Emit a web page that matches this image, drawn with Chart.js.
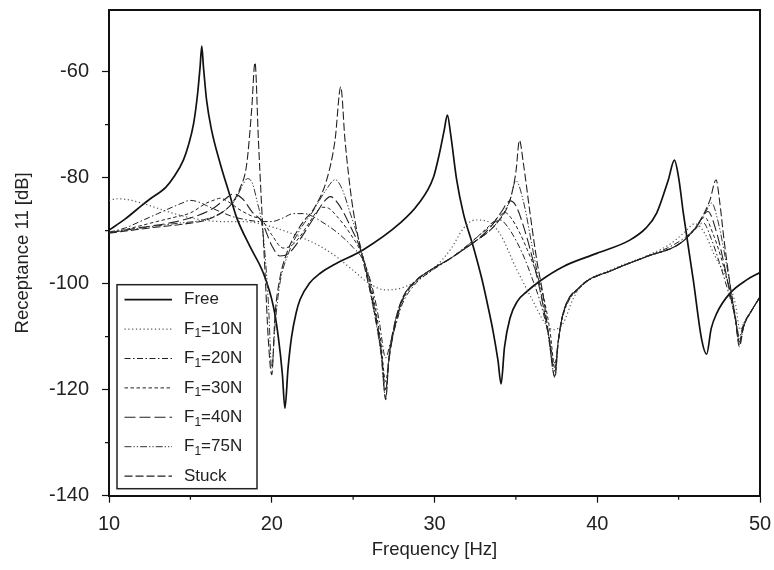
<!DOCTYPE html>
<html>
<head>
<meta charset="utf-8">
<script src="https://cdn.jsdelivr.net/npm/chart.js@4.4.1/dist/chart.umd.min.js"></script>
<style>
  html, body { margin: 0; padding: 0; background: #fff; }
  #c { display: block; }
</style>
</head>
<body>
<canvas id="c" width="774" height="570"></canvas>
<script>
// ---------- data ----------
const xTickValues = [10, 20, 30, 40, 50];
const xMinorValues = [15, 25, 35, 45];
const yTickValues = [-140, -120, -100, -80, -60];
const yMinorValues = [-130, -110, -90, -70];

const seriesNames = ['Free', 'F1=10N', 'F1=20N', 'F1=30N', 'F1=40N', 'F1=75N', 'Stuck'];

const freeHz = [10,11,12,12.5,13.5,14,14.57,14.87,15.2,15.45,15.6,15.7,15.8,16,16.3,16.8,17.43,17.85,18.66,19.48,20.1,20.4,20.65,20.81,21,21.22,21.5,21.74,22.3,23,23.78,25.63,27.88,29,29.93,30.3,30.6,30.79,31,31.36,31.77,32.38,32.9,33.3,33.6,33.9,34.09,34.3,34.64,35.1,35.67,36.48,37.9,39.97,42,43,43.65,44.37,44.74,45,45.29,45.9,46.42,46.72,47,47.34,48.16,49.18,50];
const freeDb = [-89.9,-87.8,-85.3,-84.1,-81.8,-79.8,-76.7,-74.0,-69.8,-64,-59,-55.2,-59,-65.5,-71,-77,-83.4,-87.6,-93,-98,-104.3,-110,-117,-123.5,-116,-110,-105.5,-103,-100,-98,-96.5,-93.6,-88.6,-85,-80,-75.5,-71,-68.2,-72,-80.4,-86.7,-93,-99,-104.5,-109,-114.5,-118.9,-112,-106.5,-103.3,-101.5,-99.5,-96.8,-94.3,-91.8,-89.5,-86.7,-80.4,-76.7,-80,-86.7,-99.3,-110.6,-113.3,-108.5,-105.6,-101.8,-99.3,-97.9];

const f10Hz = [10,10.5,11,12,13,14,15,16,17,18,19,20,21,22,23,24,25,26,27,28,29,30,31,31.8,32.5,33.2,34,35,36,36.8,37.3,37.9,38.5,39,41,43,44.5,45.3,46,46.6,47.15,47.7,48.16,48.5,48.77,49,49.5,50];
const f10Db = [-84.3,-84,-84.1,-84.8,-85.8,-86.8,-87.6,-88.1,-88.3,-88.3,-88.5,-89.3,-90.3,-91.5,-93,-95,-97.5,-100,-101.2,-100.8,-99.3,-97,-93.5,-89.5,-88,-88.2,-90.5,-97,-103,-107.5,-108.7,-107.5,-103,-100.5,-97.2,-94.8,-92.5,-90.5,-88.7,-90.5,-94.3,-97.5,-100.6,-104,-108.7,-107.5,-105,-102.5];

const f20Hz = [10,11,11.9,13,13.95,14.5,14.98,15.5,16,16.8,17.64,18.5,19.28,20,20.7,21.32,22,22.5,23,24,25,25.6,26.2,26.6,27,27.3,27.6,28,28.9,29.72,30.95,31.77,32.4,33.2,34.03,34.5,35,35.5,36,36.5,37,37.4,37.6,37.9,38.94,40.99,43.04,44.5,45.4,46.1,46.5,47,47.5,48,48.5,48.73,49,49.5,50];
const f20Db = [-90.3,-89.5,-88.3,-86.8,-85.5,-84.8,-84.3,-84.6,-85.3,-86.4,-87.4,-88,-88.3,-88.3,-87.6,-86.8,-86.8,-87.3,-88.2,-90.3,-93.2,-95.5,-101,-107,-114,-111,-108,-104,-99.8,-97.8,-95.3,-93.4,-91.8,-89.8,-88,-89.3,-91.8,-95,-99,-103.5,-109.5,-115,-111,-106,-100.8,-97.4,-94.9,-93,-91.3,-89.5,-88.5,-91.5,-96,-101,-106.5,-110,-107.5,-105,-102.5];

const f30Hz = [10,11,12.93,14,14.98,16,16.5,16.82,17.3,18.05,18.8,19.38,20,20.7,21.3,21.74,22.3,22.8,23.1,23.5,24,24.8,25.6,26.2,26.7,27,27.2,27.5,28,28.9,29.72,30.95,31.77,32.4,33.3,33.9,34.33,34.7,35.2,35.7,36.2,36.7,37.1,37.4,37.6,37.9,38.94,40.99,43.04,45.1,46,46.6,47.1,47.6,48,48.4,48.73,49,49.5,50];
const f30Db = [-90.4,-89.8,-88.3,-87.5,-86.7,-84.8,-84.2,-83.9,-84.5,-86.1,-87.3,-88,-90.8,-93.3,-92.6,-91.1,-88.5,-86.3,-85.6,-85.8,-87.3,-90.5,-95,-102,-111,-118.5,-114,-109,-103.5,-99.5,-97.6,-95.3,-93.5,-91.8,-89.3,-87.5,-86.6,-87.6,-90.2,-93.6,-97.5,-102.5,-109,-116,-111,-105.8,-100.7,-97.4,-94.9,-92.4,-89.8,-87.5,-90.5,-95,-99.5,-104.5,-110.5,-108,-105,-102.5];

const f40Hz = [10,12,14,15.5,16.5,17.2,17.64,18.2,18.8,19.38,20,20.5,21,21.7,22.5,23.2,23.6,24.1,24.8,25.5,26.2,26.7,27,27.2,27.5,28,28.9,29.72,30.95,31.77,32.38,33.4,34.1,34.64,35,35.5,36,36.5,37,37.4,37.6,37.9,38.94,40.99,43.04,45.1,46.1,46.8,47.3,47.7,48.1,48.5,48.73,49,49.5,50];
const f40Db = [-90.4,-89.4,-88.4,-87.1,-85.6,-83.9,-83.1,-84,-86.5,-88.3,-92.8,-94.8,-94.4,-91.8,-88,-84.6,-83.6,-85,-89,-94,-103,-112,-120,-114.5,-109,-103.3,-99.4,-97.5,-95.3,-93.6,-92.3,-89.5,-86.5,-84.4,-85.3,-89.5,-95,-101.5,-109.5,-116.5,-111,-105.7,-100.6,-97.4,-94.9,-92.4,-89.2,-86.4,-90,-95,-101,-107,-111,-108,-105,-102.5];

const f75Hz = [10,12,14,16,17.2,17.8,18.2,18.5,18.8,19.1,19.38,19.6,19.8,20,20.2,20.5,21,21.7,22.5,23.3,23.9,24.3,24.8,25.5,26.2,26.7,27,27.2,27.47,28,28.9,29.72,30.95,31.77,32.38,33.82,34.64,35,35.5,36,36.5,37,37.4,37.6,37.9,38.94,40.99,43.04,45.1,46.1,46.7,47.03,47.4,47.8,48.2,48.5,48.73,49,49.5,50];
const f75Db = [-90.4,-89.5,-88.7,-87.8,-86,-84,-81.5,-80.2,-81,-84.5,-88.5,-95,-104,-116,-108,-100,-94.5,-90,-86.5,-82.5,-80.4,-82,-86.5,-93.5,-104,-113,-121.5,-114,-108.7,-103,-99.3,-97.5,-95.3,-93.6,-92.3,-88.6,-84.2,-80.6,-85,-93,-101,-110,-117.5,-111,-105.6,-100.6,-97.4,-94.9,-92.4,-89.2,-86.3,-84.8,-88,-94,-101,-107,-111.5,-108,-105,-102.5];

const stuckHz = [10,12.5,15,16,17.2,17.64,18.05,18.46,18.77,18.97,19.18,19.38,19.59,19.79,20,20.2,20.5,20.92,21.74,22.66,23.38,23.89,24.24,24.5,24.91,25.42,26.24,26.75,27,27.2,27.47,28,28.9,29.72,30.95,31.77,32.38,33.82,34.64,35,35.22,35.46,35.87,36.28,36.69,37,37.4,37.6,37.9,38.94,40.99,43.04,45.1,46.1,46.93,47.3,47.5,47.8,48.2,48.5,48.73,49,49.5,50];
const stuckDb = [-90.5,-89.5,-88.6,-88,-86,-84.5,-82,-77.5,-67,-58.3,-72.9,-85.5,-98,-110.6,-117.2,-106,-99,-94.3,-89.2,-85.5,-80.4,-72.9,-62.9,-72.9,-84.2,-93,-104.3,-113.8,-121.9,-114,-108.7,-103,-99.3,-97.5,-95.3,-93.6,-92.3,-88.6,-84.2,-79,-73,-77.3,-86.7,-95.5,-102.5,-109.4,-117.7,-111,-105.6,-100.6,-97.4,-94.9,-92.4,-89.2,-84.2,-80.4,-84,-92,-101,-107,-111.9,-108,-105,-102.5];

// ---------- styling ----------
const FONT = "'Liberation Sans', Arial, Helvetica, sans-serif";
const styles = [
  { color: '#111', width: 1.7, dash: [] },
  { color: '#555', width: 1.2, dash: [1.2, 2.6] },
  { color: '#222', width: 1.0, dash: [6, 2.5, 1.5, 2.5] },
  { color: '#222', width: 1.0, dash: [3.5, 2.5] },
  { color: '#222', width: 1.1, dash: [11, 4] },
  { color: '#333', width: 1.0, dash: [7, 2, 1.3, 2, 1.3, 2] },
  { color: '#222', width: 1.1, dash: [8, 3] }
];
const pairs = [[freeHz, freeDb], [f10Hz, f10Db], [f20Hz, f20Db], [f30Hz, f30Db], [f40Hz, f40Db], [f75Hz, f75Db], [stuckHz, stuckDb]];

const datasets = pairs.map((p, i) => ({
  label: seriesNames[i],
  data: p[0].map((x, j) => ({ x: x, y: p[1][j] })),
  borderColor: styles[i].color,
  borderWidth: styles[i].width,
  borderDash: styles[i].dash,
  pointRadius: 0,
  fill: false,
  cubicInterpolationMode: 'monotone',
  order: 7 - i
}));

// ---------- plugins ----------
const framePlugin = {
  id: 'frame',
  afterDraw(chart) {
    const { ctx, chartArea: a, scales } = chart;
    ctx.save();
    ctx.strokeStyle = '#111';
    ctx.lineWidth = 2;
    ctx.setLineDash([]);
    ctx.beginPath();
    ctx.moveTo(a.left, a.top);
    ctx.lineTo(a.right, a.top);
    ctx.lineTo(a.right, a.bottom);
    ctx.stroke();
    ctx.lineWidth = 1.2;
    ctx.beginPath();
    xMinorValues.forEach(v => {
      const px = scales.x.getPixelForValue(v);
      ctx.moveTo(px, a.bottom);
      ctx.lineTo(px, a.bottom + 4);
    });
    yMinorValues.forEach(v => {
      const py = scales.y.getPixelForValue(v);
      ctx.moveTo(a.left, py);
      ctx.lineTo(a.left - 4, py);
    });
    ctx.stroke();
    ctx.restore();
  }
};

const legendPlugin = {
  id: 'boxLegend',
  afterDraw(chart) {
    const { ctx, chartArea: a } = chart;
    const x0 = a.left + 8, w = 140, h = 204;
    const y0 = a.bottom - 7 - h;
    ctx.save();
    ctx.fillStyle = '#fff';
    ctx.fillRect(x0, y0, w, h);
    ctx.strokeStyle = '#222';
    ctx.lineWidth = 1.5;
    ctx.setLineDash([]);
    ctx.strokeRect(x0, y0, w, h);
    chart.data.datasets.forEach((ds, i) => {
      const cy = y0 + 15 + i * 29.4;
      ctx.strokeStyle = ds.borderColor;
      ctx.lineWidth = ds.borderWidth;
      ctx.setLineDash(ds.borderDash);
      ctx.beginPath();
      ctx.moveTo(x0 + 7.5, cy);
      ctx.lineTo(x0 + 55, cy);
      ctx.stroke();
      ctx.setLineDash([]);
      ctx.fillStyle = '#222';
      ctx.textBaseline = 'middle';
      ctx.textAlign = 'left';
      const tx = x0 + 67;
      const name = ds.label;
      if (name.startsWith('F1')) {
        ctx.font = '17px ' + FONT;
        ctx.fillText('F', tx, cy);
        const fw = ctx.measureText('F').width;
        ctx.font = '12px ' + FONT;
        ctx.fillText('1', tx + fw, cy + 5);
        const sw = ctx.measureText('1').width;
        ctx.font = '17px ' + FONT;
        ctx.fillText(name.slice(2), tx + fw + sw, cy);
      } else {
        ctx.font = '17px ' + FONT;
        ctx.fillText(name, tx, cy);
      }
    });
    ctx.restore();
  }
};

// ---------- chart ----------
new Chart(document.getElementById('c'), {
  type: 'line',
  data: { datasets },
  plugins: [framePlugin, legendPlugin],
  options: {
    responsive: false,
    animation: false,
    devicePixelRatio: 1,
    layout: { padding: { top: 10, right: 14, left: 0, bottom: 0 } },
    plugins: { legend: { display: false }, tooltip: { enabled: false } },
    elements: { line: { tension: 0 } },
    scales: {
      x: {
        type: 'linear',
        min: 10, max: 50,
        afterBuildTicks: s => { s.ticks = xTickValues.map(v => ({ value: v })); },
        afterFit: s => { s.height = 74.3; s.paddingLeft = 0; s.paddingRight = 0; },
        grid: { drawOnChartArea: false, drawTicks: true, tickLength: 7, tickColor: '#111', tickWidth: 1.2 },
        border: { display: true, color: '#111', width: 2 },
        ticks: { font: { family: FONT, size: 20 }, color: '#222', padding: 10, maxRotation: 0 },
        title: { display: true, text: 'Frequency [Hz]', font: { family: FONT, size: 18.5 }, color: '#222', padding: { top: 0, bottom: 9 } }
      },
      y: {
        type: 'linear',
        min: -140, max: -48.4,
        afterBuildTicks: s => { s.ticks = yTickValues.map(v => ({ value: v })); },
        afterFit: s => { s.width = 109; s.paddingTop = 0; s.paddingBottom = 0; },
        grid: { drawOnChartArea: false, drawTicks: true, tickLength: 7, tickColor: '#111', tickWidth: 1.2 },
        border: { display: true, color: '#111', width: 2 },
        ticks: { font: { family: FONT, size: 20 }, color: '#222', padding: 13 },
        title: { display: true, text: 'Receptance 11 [dB]', font: { family: FONT, size: 18.5 }, color: '#222', padding: { top: 12, bottom: 0 } }
      }
    }
  }
});
</script>
</body>
</html>
